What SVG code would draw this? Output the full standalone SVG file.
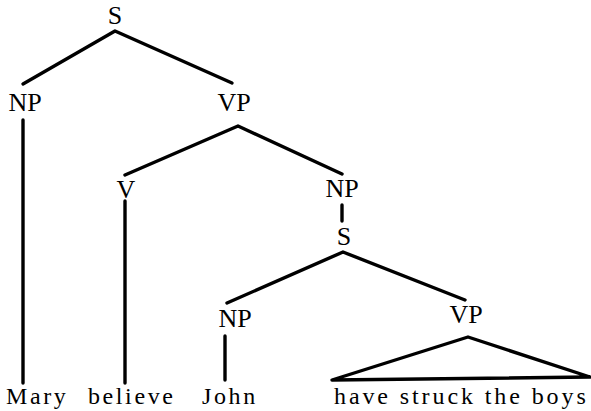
<svg xmlns="http://www.w3.org/2000/svg" width="591" height="411" viewBox="0 0 591 411">
<style>
.lbl{font-family:"Liberation Serif","Times New Roman",serif;font-size:26px;fill:#000;text-anchor:middle}
.wd{font-family:"Liberation Serif","Times New Roman",serif;font-size:24px;fill:#000;letter-spacing:2.6px}
.e{stroke:#000;stroke-width:3.4;fill:none;stroke-linecap:round;stroke-linejoin:round}
</style>
<rect width="591" height="411" fill="#fff"/>
<g id="edges">
<polyline class="e" points="23,84 115,31 232,83"/>
<line class="e" x1="23" y1="120" x2="23" y2="383"/>
<polyline class="e" points="125,175 238,126 342,174"/>
<line class="e" x1="125" y1="201" x2="125" y2="383"/>
<line class="e" x1="342" y1="205" x2="342" y2="221"/>
<polyline class="e" points="227,303 343,252 465,300"/>
<line class="e" x1="225" y1="336" x2="225" y2="380"/>
<polygon class="e" points="332,380 468,337 590,377"/>
</g>
<g id="n-S"><text class="lbl" x="115" y="24">S</text></g>
<g id="n-NP1"><text class="lbl" x="25" y="111">NP</text></g>
<g id="n-VP1"><text class="lbl" x="234" y="111">VP</text></g>
<g id="n-V"><text class="lbl" x="126" y="198">V</text></g>
<g id="n-NP2"><text class="lbl" x="342" y="197">NP</text></g>
<g id="n-S2"><text class="lbl" x="344" y="245">S</text></g>
<g id="n-NP3"><text class="lbl" x="235" y="327">NP</text></g>
<g id="n-VP3"><text class="lbl" x="466" y="323">VP</text></g>
<g id="w-mary"><text class="wd" x="6" y="404">Mary</text></g>
<g id="w-believe"><text class="wd" x="88" y="404">believe</text></g>
<g id="w-john"><text class="wd" x="202" y="404">John</text></g>
<g id="w-rest"><text class="wd" x="334" y="404" style="letter-spacing:2.9px">have struck the boys</text></g>
</svg>
